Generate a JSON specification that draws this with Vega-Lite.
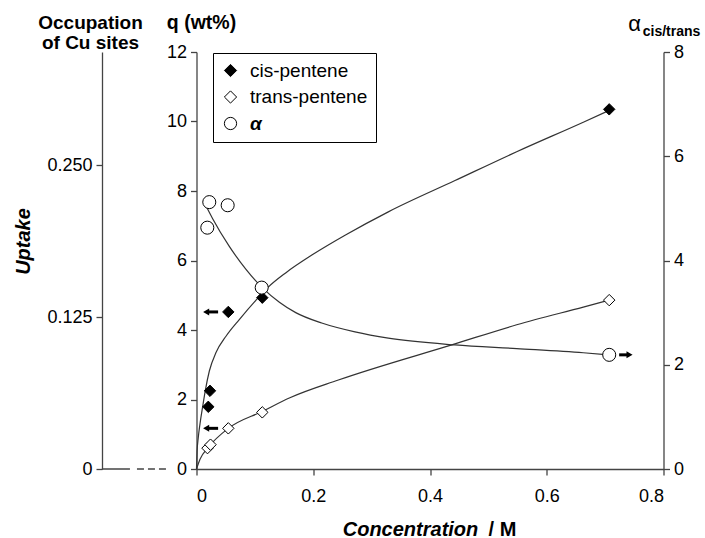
{
  "$schema": "https://vega.github.io/schema/vega-lite/v6.json",
  "width": 467,
  "height": 417,
  "autosize": "none",
  "padding": {"left": 196.5, "top": 52, "right": 41.5, "bottom": 69},
  "background": "white",
  "config": {
    "font": "Liberation Sans",
    "view": {"stroke": null},
    "axis": {"grid": false, "domainColor": "#444", "domainWidth": 1.3, "tickColor": "#444", "tickWidth": 1.3, "tickSize": 6, "labelColor": "black", "titleColor": "black", "labelFontSize": 18, "labelPadding": 4, "labelFont": "Liberation Sans", "titleFont": "Liberation Sans"}
  },
  "datasets": {
    "points": [
      {"series": "cis-pentene", "conc": 0.0202, "val": 1.79},
      {"series": "cis-pentene", "conc": 0.0231, "val": 2.25},
      {"series": "cis-pentene", "conc": 0.0545, "val": 4.52},
      {"series": "cis-pentene", "conc": 0.1127, "val": 4.93},
      {"series": "cis-pentene", "conc": 0.707, "val": 10.35},
      {"series": "trans-pentene", "conc": 0.0188, "val": 0.6},
      {"series": "trans-pentene", "conc": 0.024, "val": 0.7},
      {"series": "trans-pentene", "conc": 0.0545, "val": 1.17},
      {"series": "trans-pentene", "conc": 0.1127, "val": 1.63},
      {"series": "trans-pentene", "conc": 0.707, "val": 4.86},
      {"series": "α", "conc": 0.0219, "val": 5.12},
      {"series": "α", "conc": 0.0534, "val": 5.06},
      {"series": "α", "conc": 0.0185, "val": 4.63},
      {"series": "α", "conc": 0.1117, "val": 3.48},
      {"series": "α", "conc": 0.707, "val": 2.19}
    ],
    "curves": [
      {"series": "cis", "conc": 0, "val": 0},
      {"series": "cis", "conc": 0.001, "val": 0.5},
      {"series": "cis", "conc": 0.003, "val": 0.9},
      {"series": "cis", "conc": 0.006, "val": 1.3},
      {"series": "cis", "conc": 0.0106, "val": 1.8},
      {"series": "cis", "conc": 0.015, "val": 2.25},
      {"series": "cis", "conc": 0.022, "val": 2.82},
      {"series": "cis", "conc": 0.0334, "val": 3.35},
      {"series": "cis", "conc": 0.0505, "val": 3.82},
      {"series": "cis", "conc": 0.0733, "val": 4.3},
      {"series": "cis", "conc": 0.102, "val": 4.86},
      {"series": "cis", "conc": 0.122, "val": 5.22},
      {"series": "cis", "conc": 0.1533, "val": 5.65},
      {"series": "cis", "conc": 0.199, "val": 6.17},
      {"series": "cis", "conc": 0.256, "val": 6.74},
      {"series": "cis", "conc": 0.3286, "val": 7.4},
      {"series": "cis", "conc": 0.4428, "val": 8.3},
      {"series": "cis", "conc": 0.5485, "val": 9.13},
      {"series": "cis", "conc": 0.6626, "val": 9.98},
      {"series": "cis", "conc": 0.707, "val": 10.32},
      {"series": "trans", "conc": 0, "val": 0},
      {"series": "trans", "conc": 0.006, "val": 0.28},
      {"series": "trans", "conc": 0.02, "val": 0.62},
      {"series": "trans", "conc": 0.0545, "val": 1.17},
      {"series": "trans", "conc": 0.113, "val": 1.66},
      {"series": "trans", "conc": 0.16, "val": 2.05},
      {"series": "trans", "conc": 0.243, "val": 2.56},
      {"series": "trans", "conc": 0.4428, "val": 3.6},
      {"series": "trans", "conc": 0.5485, "val": 4.15},
      {"series": "trans", "conc": 0.6626, "val": 4.66},
      {"series": "trans", "conc": 0.707, "val": 4.86}
    ],
    "alphacurve": [
      {"conc": 0.0175, "val": 5.02},
      {"conc": 0.0277, "val": 4.8},
      {"conc": 0.0562, "val": 4.27},
      {"conc": 0.0848, "val": 3.83},
      {"conc": 0.1134, "val": 3.47},
      {"conc": 0.142, "val": 3.2},
      {"conc": 0.17, "val": 3.0},
      {"conc": 0.2145, "val": 2.8},
      {"conc": 0.2715, "val": 2.63},
      {"conc": 0.3286, "val": 2.51},
      {"conc": 0.4428, "val": 2.38},
      {"conc": 0.5485, "val": 2.31},
      {"conc": 0.6626, "val": 2.23},
      {"conc": 0.707, "val": 2.19}
    ],
    "leftarrows": [
      {"x1": 0.018, "x2": 0.037, "head": 0.0165, "val": 4.52},
      {"x1": 0.018, "x2": 0.037, "head": 0.0165, "val": 1.17}
    ],
    "rightarrow": [
      {"x1": 0.724, "x2": 0.740, "head": 0.7418, "val": 2.19}
    ],
    "zeroline": [
      {"x1": -0.162, "x2": -0.114, "occ": 0, "style": "solid"},
      {"x1": -0.102, "x2": -0.05, "occ": 0, "style": "dashed"}
    ]
  },
  "layer": [
    {
      "layer": [
        {
          "data": {"name": "curves"},
          "mark": {"type": "line", "interpolate": "monotone", "stroke": "#333", "strokeWidth": 1.2},
          "encoding": {
            "x": {"field": "conc", "type": "quantitative", "scale": {"domain": [0, 0.8], "nice": false}},
            "y": {"field": "val", "type": "quantitative", "scale": {"domain": [0, 12], "nice": false}},
            "detail": {"field": "series"}
          }
        },
        {
          "data": {"name": "points"},
          "transform": [{"filter": "datum.series != 'α'"}],
          "mark": {"type": "point", "filled": true, "strokeWidth": 1, "size": 130, "opacity": 1},
          "encoding": {
            "x": {"field": "conc", "type": "quantitative", "scale": {"domain": [0, 0.8], "nice": false},
              "axis": {"orient": "bottom", "values": [0, 0.2, 0.4, 0.6, 0.8], "format": "~g", "labelPadding": 12, "title": "Concentration", "titleFontStyle": "italic", "titleFontWeight": "bold", "titleFontSize": 20, "titleX": 213.5, "titleY": 66, "titleAlign": "center", "titleBaseline": "alphabetic"}},
            "y": {"field": "val", "type": "quantitative", "scale": {"domain": [0, 12], "nice": false},
              "axis": {"values": [0, 2, 4, 6, 8, 10, 12], "title": "q (wt%)", "titleAngle": 0, "titleX": 4.5, "titleY": -24, "titleAlign": "center", "titleBaseline": "alphabetic", "titleFontSize": 19.5, "titleFontWeight": "bold"}},
            "shape": {"field": "series", "type": "nominal", "scale": {"domain": ["cis-pentene", "trans-pentene", "α"], "range": ["diamond", "diamond", "circle"]},
              "legend": {"title": null, "orient": "none", "legendX": 16.5, "legendY": 1, "strokeColor": "black", "fillColor": "white", "padding": 8, "labelFontSize": 19, "labelColor": "black", "symbolSize": 150, "symbolStrokeWidth": 1, "rowPadding": 6.5, "labelOffset": 10,
                "labelFontStyle": {"expr": "datum.label == 'α' ? 'italic' : 'normal'"},
                "labelFontWeight": {"expr": "datum.label == 'α' ? 'bold' : 'normal'"}}},
            "fill": {"field": "series", "type": "nominal", "scale": {"domain": ["cis-pentene", "trans-pentene", "α"], "range": ["black", "white", "white"]}},
            "stroke": {"field": "series", "type": "nominal", "scale": {"domain": ["cis-pentene", "trans-pentene", "α"], "range": ["black", "black", "black"]}}
          }
        }
      ]
    },
    {
      "layer": [
        {
          "data": {"name": "alphacurve"},
          "mark": {"type": "line", "interpolate": "monotone", "stroke": "#333", "strokeWidth": 1.2},
          "encoding": {
            "x": {"field": "conc", "type": "quantitative", "scale": {"domain": [0, 0.8], "nice": false}, "axis": null},
            "y": {"field": "val", "type": "quantitative", "scale": {"domain": [0, 8], "nice": false}}
          }
        },
        {
          "data": {"name": "points"},
          "transform": [{"filter": "datum.series == 'α'"}],
          "mark": {"type": "point", "filled": true, "strokeWidth": 1, "size": 170, "opacity": 1},
          "encoding": {
            "x": {"field": "conc", "type": "quantitative", "scale": {"domain": [0, 0.8], "nice": false}, "axis": null},
            "y": {"field": "val", "type": "quantitative", "scale": {"domain": [0, 8], "nice": false},
              "axis": {"orient": "right", "values": [0, 2, 4, 6, 8], "title": "α", "titleAngle": 0, "titleX": -29.5, "titleY": -22, "titleAlign": "center", "titleBaseline": "alphabetic", "titleFontSize": 22, "titleFontWeight": "normal"}},
            "shape": {"field": "series", "type": "nominal", "scale": {"domain": ["cis-pentene", "trans-pentene", "α"], "range": ["diamond", "diamond", "circle"]}},
            "fill": {"field": "series", "type": "nominal", "scale": {"domain": ["cis-pentene", "trans-pentene", "α"], "range": ["black", "white", "white"]}},
            "stroke": {"field": "series", "type": "nominal", "scale": {"domain": ["cis-pentene", "trans-pentene", "α"], "range": ["black", "black", "black"]}}
          }
        }
      ]
    },
    {
      "data": {"name": "zeroline"},
      "mark": {"type": "rule", "stroke": "#444", "strokeWidth": 1.3},
      "encoding": {
        "x": {"field": "x1", "type": "quantitative", "scale": {"domain": [0, 0.8], "nice": false},
          "axis": {"orient": "bottom", "title": "/ M", "domain": false, "ticks": false, "labels": false, "titleX": 305.5, "titleY": 66, "titleAlign": "center", "titleBaseline": "alphabetic", "titleFontSize": 20, "titleFontWeight": "bold"}},
        "x2": {"field": "x2"},
        "y": {"field": "occ", "type": "quantitative", "scale": {"domain": [0, 0.343], "nice": false},
          "axis": {"orient": "left", "offset": 94.5, "values": [0, 0.125, 0.25], "labelExpr": "datum.value == 0 ? '0' : format(datum.value, '.3f')", "title": ["Occupation", "of Cu sites"], "titleAngle": 0, "titleX": -12, "titleY": -24, "titleAlign": "center", "titleBaseline": "alphabetic", "titleLineHeight": 20, "titleFontWeight": "bold", "titleFontSize": 19}},
        "strokeDash": {"field": "style", "type": "nominal", "scale": {"domain": ["solid", "dashed"], "range": [[1, 0], [7, 4]]}, "legend": null}
      }
    },
    {
      "data": {"name": "rightarrow"},
      "layer": [
        {
          "mark": {"type": "rule", "stroke": "black", "strokeWidth": 3},
          "encoding": {
            "x": {"field": "x1", "type": "quantitative", "scale": {"domain": [0, 0.8], "nice": false}, "axis": null},
            "x2": {"field": "x2"},
            "y": {"field": "val", "type": "quantitative", "scale": {"domain": [0, 8], "nice": false},
              "axis": {"orient": "right", "domain": false, "ticks": false, "labels": false, "title": "cis/trans", "titleAngle": 0, "titleX": 7.5, "titleY": -17, "titleAlign": "center", "titleBaseline": "alphabetic", "titleFontSize": 14, "titleFontWeight": "bold"}}
          }
        },
        {
          "mark": {"type": "point", "shape": "triangle-right", "filled": true, "color": "black", "size": 49, "opacity": 1},
          "encoding": {
            "x": {"field": "head", "type": "quantitative", "scale": {"domain": [0, 0.8], "nice": false}, "axis": null},
            "y": {"field": "val", "type": "quantitative", "scale": {"domain": [0, 8], "nice": false}}
          }
        }
      ]
    },
    {
      "data": {"name": "leftarrows"},
      "layer": [
        {
          "mark": {"type": "rule", "stroke": "black", "strokeWidth": 3},
          "encoding": {
            "x": {"field": "x1", "type": "quantitative", "scale": {"domain": [0, 0.8], "nice": false}, "axis": null},
            "x2": {"field": "x2"},
            "y": {"field": "val", "type": "quantitative", "scale": {"domain": [0, 12], "nice": false},
              "axis": {"orient": "left", "domain": false, "ticks": false, "labels": false, "title": "Uptake", "titleAngle": 270, "titleX": -173.5, "titleY": 189, "titleAlign": "center", "titleBaseline": "middle", "titleFontSize": 20, "titleFontWeight": "bold", "titleFontStyle": "italic"}}
          }
        },
        {
          "mark": {"type": "point", "shape": "triangle-left", "filled": true, "color": "black", "size": 49, "opacity": 1},
          "encoding": {
            "x": {"field": "head", "type": "quantitative", "scale": {"domain": [0, 0.8], "nice": false}, "axis": null},
            "y": {"field": "val", "type": "quantitative", "scale": {"domain": [0, 12], "nice": false}}
          }
        }
      ]
    }
  ],
  "resolve": {"scale": {"y": "independent"}, "axis": {"x": "independent", "y": "independent"}}
}
